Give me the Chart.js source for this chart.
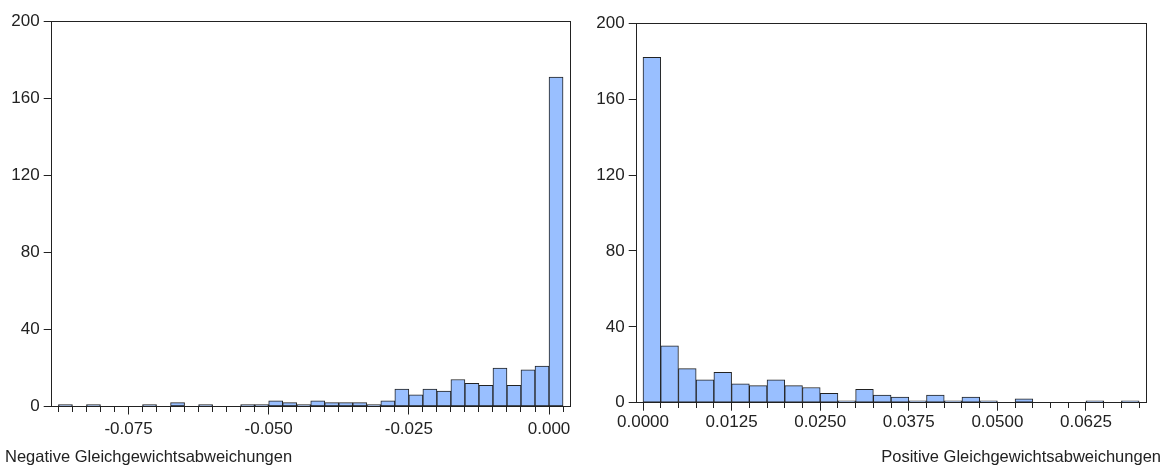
<!DOCTYPE html>
<html>
<head>
<meta charset="utf-8">
<script src="https://cdn.jsdelivr.net/npm/chart.js@4.4.1/dist/chart.umd.min.js"></script>
<style>
  html, body { margin: 0; padding: 0; background: #fff; }
  #wrap { position: relative; width: 1164px; height: 471px; overflow: hidden; }
  #neg { position: absolute; left: 0; top: 0; }
  #pos { position: absolute; left: 580px; top: 0; }
</style>
</head>
<body>
<div id="wrap">
  <canvas id="neg" width="580" height="471"></canvas>
  <canvas id="pos" width="584" height="471"></canvas>
</div>
<script>
// Two EViews-style histograms of equilibrium deviations.
// Bin width 0.0025; counts.

const BIN_WIDTH = 0.0025;

const negBinStarts = [
  -0.0875, -0.085, -0.0825, -0.08, -0.0775, -0.075, -0.0725, -0.07, -0.0675,
  -0.065, -0.0625, -0.06, -0.0575, -0.055, -0.0525, -0.05, -0.0475, -0.045,
  -0.0425, -0.04, -0.0375, -0.035, -0.0325, -0.03, -0.0275, -0.025, -0.0225,
  -0.02, -0.0175, -0.015, -0.0125, -0.01, -0.0075, -0.005, -0.0025, 0,
];
const negCounts = [
  1, 0, 1, 0, 0, 0, 1, 0, 2,
  0, 1, 0, 0, 1, 1, 3, 2, 1,
  3, 2, 2, 2, 1, 3, 9, 6, 9,
  8, 14, 12, 11, 20, 11, 19, 21, 171,
];
const negTickValues = [-0.075, -0.05, -0.025, 0];
const negTickLabels = ['-0.075', '-0.050', '-0.025', '0.000'];
const negTitle = 'Negative Gleichgewichtsabweichungen';

const posBinStarts = [
  0, 0.0025, 0.005, 0.0075, 0.01, 0.0125, 0.015, 0.0175, 0.02, 0.0225,
  0.025, 0.0275, 0.03, 0.0325, 0.035, 0.0375, 0.04, 0.0425, 0.045, 0.0475,
  0.05, 0.0525, 0.055, 0.0575, 0.06, 0.0625, 0.065, 0.0675,
];
const posCounts = [
  182, 30, 18, 12, 16, 10, 9, 12, 9, 8,
  5, 1, 7, 4, 3, 1, 4, 1, 3, 1,
  0, 2, 0, 0, 0, 1, 0, 1,
];
const posTickValues = [0, 0.0125, 0.025, 0.0375, 0.05, 0.0625];
const posTickLabels = ['0.0000', '0.0125', '0.0250', '0.0375', '0.0500', '0.0625'];
const posTitle = 'Positive Gleichgewichtsabweichungen';

const yTicks = [0, 40, 80, 120, 160, 200];

const FONT = "'Liberation Sans', Arial, Helvetica, sans-serif";
const INK = '#222222';
const FILL = '#99bfff';

function histogram(canvas, cfg) {
  const edges = cfg.starts.concat([cfg.starts[cfg.starts.length - 1] + BIN_WIDTH]);
  const majorIndex = (v) => cfg.tickValues.findIndex((t) => Math.abs(t - v) < 1e-9);

  return new Chart(canvas, {
    type: 'bar',
    data: {
      datasets: [{
        data: cfg.starts.map((s, i) => ({ x: s + BIN_WIDTH / 2, y: cfg.counts[i] })),
        backgroundColor: FILL,
        borderColor: INK,
        borderWidth: 1,
        borderSkipped: false,
        barPercentage: 1,
        categoryPercentage: 1,
      }],
    },
    options: {
      responsive: false,
      animation: false,
      devicePixelRatio: 1,
      layout: { padding: cfg.padding },
      plugins: {
        legend: { display: false },
        tooltip: { enabled: false },
        title: {
          display: true,
          text: cfg.title,
          position: 'bottom',
          align: cfg.titleAlign,
          color: INK,
          font: { family: FONT, size: 16.5, weight: 'normal' },
          padding: { top: 0, bottom: 4 },
        },
      },
      scales: {
        x: {
          type: 'linear',
          min: cfg.min,
          max: cfg.max,
          offset: false,
          afterBuildTicks: (scale) => { scale.ticks = edges.map((v) => ({ value: v })); },
          afterFit: (scale) => { scale.height = cfg.xHeight; },
          ticks: {
            autoSkip: false,
            maxRotation: 0,
            padding: cfg.xLabelPad,
            color: INK,
            font: { family: FONT, size: 17 },
            callback: (v) => { const k = majorIndex(v); return k < 0 ? '' : cfg.tickLabels[k]; },
          },
          grid: {
            offset: false,
            drawOnChartArea: false,
            tickLength: 8,
            tickColor: INK,
            tickWidth: 1,
            // minor ticks only run the first 5px of the mark
            tickBorderDash: (ctx) => (ctx.tick && majorIndex(ctx.tick.value) >= 0 ? [] : [5, 40]),
          },
          border: { display: true, color: INK, width: 1 },
        },
        x2: {
          type: 'linear',
          position: 'top',
          ticks: { display: false },
          grid: { display: false, drawTicks: false },
          border: { display: true, color: INK, width: 1 },
        },
        y: {
          min: 0,
          max: 200,
          afterBuildTicks: (scale) => { scale.ticks = yTicks.map((v) => ({ value: v })); },
          afterFit: (scale) => { scale.width = cfg.yWidth; },
          ticks: { padding: 4, color: INK, font: { family: FONT, size: 17 } },
          grid: { drawOnChartArea: false, tickLength: 8, tickColor: INK },
          border: { display: true, color: INK, width: 1 },
        },
        y2: {
          type: 'linear',
          position: 'right',
          afterFit: (scale) => { scale.width = cfg.y2Width; },
          ticks: { display: false },
          grid: { display: false, drawTicks: false },
          border: { display: true, color: INK, width: 1 },
        },
      },
    },
  });
}

histogram(document.getElementById('neg'), {
  starts: negBinStarts,
  counts: negCounts,
  tickValues: negTickValues,
  tickLabels: negTickLabels,
  title: negTitle,
  titleAlign: 'start',
  min: -0.0887,
  max: 0.00374,
  padding: { left: 5, right: 10, top: 21.3, bottom: 0 },
  yWidth: 46.7,
  y2Width: 0,
  xHeight: 40.7,
  xLabelPad: 4.3,
});

histogram(document.getElementById('pos'), {
  starts: posBinStarts,
  counts: posCounts,
  tickValues: posTickValues,
  tickLabels: posTickLabels,
  title: posTitle,
  titleAlign: 'end',
  min: -0.00089,
  max: 0.07097,
  padding: { left: 0, right: 3, top: 23.3, bottom: 0 },
  yWidth: 56.7,
  y2Width: 15,
  xHeight: 44.5,
  xLabelPad: 1,
});
</script>
</body>
</html>
